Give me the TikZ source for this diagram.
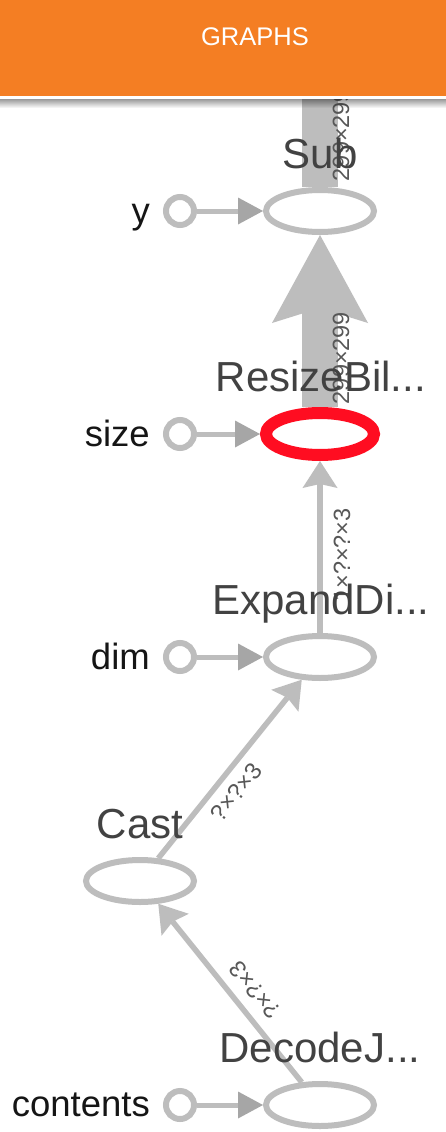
\documentclass[tikz,border=0pt]{standalone}
\usepackage{fontspec}
\setmainfont{Liberation Sans}
\usetikzlibrary{shapes.geometric, arrows.meta, backgrounds, fadings}
\definecolor{TBOrange}{HTML}{F47E23}
\definecolor{TBGray}{HTML}{BDBDBD}
\definecolor{TBDarkGray}{HTML}{A6A6A6}
\definecolor{TBRed}{HTML}{FF0D21}
\definecolor{TBText}{HTML}{424242}
\definecolor{TBEdgeText}{HTML}{575757}
\definecolor{TBBlack}{HTML}{151515}
\tikzset{
    opnode/.style={
        ellipse,
        draw=TBGray,
        line width=6pt,
        fill=white,
        minimum width=108pt,
        minimum height=42pt,
        inner sep=0pt
    },
    selnode/.style={
        opnode,
        draw=TBRed,
        line width=12pt
    },
    innode/.style={
        circle,
        draw=TBGray,
        line width=6pt,
        fill=white,
        minimum size=28pt,
        inner sep=0pt
    },
    oplabel/.style={
        anchor=base,
        inner sep=0pt,
        text=TBText,
        font=\fontsize{42}{50}\selectfont
    },
    inlabel/.style={
        anchor=base east,
        inner sep=0pt,
        text=TBBlack,
        font=\fontsize{36.5}{44}\selectfont
    },
    edgelabel/.style={
        inner sep=0pt,
        text=TBEdgeText,
        font=\fontsize{23.5}{28}\selectfont
    },
    inarrow/.style={
        -{Triangle[length=25pt, width=27pt, line width=0pt, color=TBDarkGray]},
        line width=5pt,
        TBGray
    },
    edge/.style={
        -{Stealth[length=27pt, width=35pt, inset=4pt, line width=0pt]},
        line width=5.5pt,
        TBGray
    },
    bigedge/.style={
        -{Stealth[length=88pt, width=96pt, inset=15pt, line width=0pt]},
        line width=36pt,
        TBGray
    }
}

\begin{document}
\begin{tikzpicture}[x=1pt, y=-1pt]
        \useasboundingbox (0,0) rectangle (446,1132);

        % Op nodes
        \node[opnode] (sub) at (320,211) {};
        \node[selnode] (resize) at (320,434) {};
        \node[opnode] (expand) at (320,657) {};
        \node[opnode] (cast) at (140,881) {};
        \node[opnode] (decode) at (320,1105) {};
        \coordinate (subout) at (320,40);

        % Op names
        \node[oplabel] (sublbl) at (320,168) {Sub};
        \node[oplabel] (resizelbl) at (321,391) {ResizeBil...};
        \node[oplabel] (expandlbl) at (321,614) {ExpandDi...};
        \node[oplabel] (castlbl) at (140,838) {Cast};
        \node[oplabel] (decodelbl) at (320,1062) {DecodeJ...};

        % Inputs
        \node[innode] (iny) at (180,211) {};
        \node[innode] (insize) at (180,434) {};
        \node[innode] (indim) at (180,657) {};
        \node[innode] (incontents) at (180,1105) {};
        \node[inlabel] (ylbl) at (150,223) {y};
        \node[inlabel] (sizelbl) at (150,446) {size};
        \node[inlabel] (dimlbl) at (150,669) {dim};
        \node[inlabel] (contentslbl) at (150,1116) {contents};

        \draw[inarrow] (iny) -- (sub);
        \draw[inarrow] (insize) -- (resize);
        \draw[inarrow] (indim) -- (expand);
        \draw[inarrow] (incontents) -- (decode);

        % Edges behind the nodes
        \begin{scope}[on background layer]
            \fill[white] (0,0) rectangle (446,1132);
            \draw[TBGray, line width=36pt] (sub) -- (subout);
            \draw[bigedge] (resize) -- (sub);
            \draw[edge] (expand) -- (resize);
            \draw[edge] (cast) -- (expand);
            \draw[edge] (decode) -- (cast);

            \node[edgelabel, rotate=90] (l1) at (341,135) {299×299};
            \node[edgelabel, rotate=90] (l2) at (341,358) {299×299};
            \node[edgelabel, rotate=90] (l3) at (342,555) {1×?×?×3};
            \node[edgelabel, rotate=51] (l4) at (236,792) {?×?×3};
            \node[edgelabel, rotate=129] (l5) at (255,990) {?×?×3};
        \end{scope}

        % Header bar
        \fill[TBOrange] (0,0) rectangle (446,96);
        \fill[white] (0,96) rectangle (446,99);
        \fill[black, path fading=south, fill opacity=0.4] (0,99) rectangle (446,108);
        \node[text=white, inner sep=0pt, font=\fontsize{25.5}{30}\selectfont] (title) at (255,36.5) {GRAPHS};
    \end{tikzpicture}
\end{document}
